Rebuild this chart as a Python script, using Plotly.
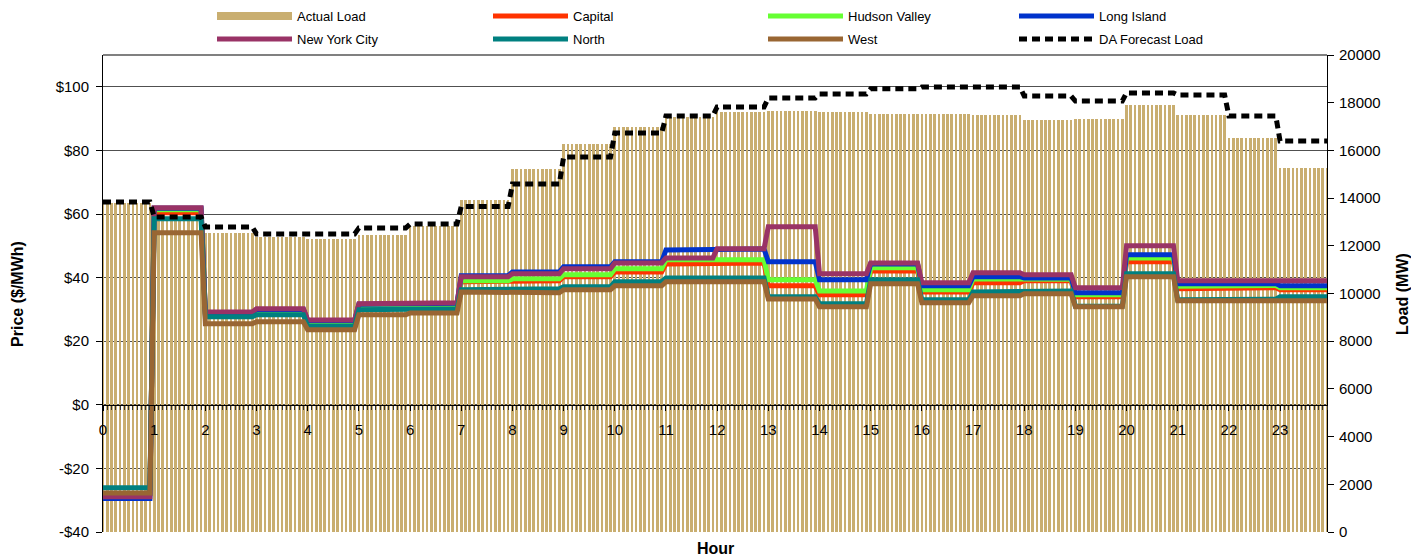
import numpy as np
import plotly.graph_objects as go

# ---------------- data ----------------
hours = list(range(24))
hour_labels = [str(h) for h in hours]
intervals_per_hour = 12  # 5-minute intervals

actual_load = [13800, 13100, 12540, 12370, 12290, 12450, 12830, 13900, 15220, 16270, 16980, 17400,
               17610, 17650, 17610, 17530, 17530, 17490, 17280, 17320, 17900, 17490, 16520, 15260]
da_forecast = [13840, 13210, 12790, 12500, 12500, 12750, 12910, 13650, 14590, 15720, 16730, 17440,
               17820, 18200, 18370, 18580, 18660, 18660, 18280, 18070, 18410, 18320, 17440, 16390]

capital = [-28.0, 60.4, 28.5, 29.3, 25.8, 30.9, 31.2, 38.7, 39.0, 40.3, 41.8, 44.3,
           44.6, 37.4, 34.6, 42.1, 35.5, 38.4, 39.0, 34.0, 45.0, 36.5, 36.8, 36.2]
hudson_valley = [-28.0, 61.3, 28.8, 29.6, 26.0, 31.2, 31.5, 39.0, 39.6, 40.9, 42.8, 45.6,
                 45.6, 39.3, 35.8, 43.1, 36.2, 39.6, 39.5, 34.6, 46.2, 37.3, 37.5, 36.8]
long_island = [-29.5, 61.8, 29.0, 30.0, 26.5, 31.6, 31.9, 40.6, 41.8, 43.4, 45.0, 48.7,
               49.0, 45.0, 39.3, 44.3, 37.4, 40.3, 39.9, 35.2, 47.2, 38.1, 38.1, 37.4]
new_york_city = [-28.9, 62.0, 29.2, 30.2, 26.7, 31.8, 32.1, 40.3, 41.2, 42.8, 44.6, 46.2,
                 49.1, 56.0, 41.2, 44.6, 38.4, 41.5, 40.9, 36.8, 50.0, 39.0, 39.3, 39.0]
north = [-26.1, 58.5, 27.7, 28.3, 24.8, 29.9, 30.2, 36.2, 36.5, 37.1, 38.7, 39.9,
         39.9, 34.0, 31.8, 39.3, 33.0, 35.5, 35.8, 31.0, 41.2, 33.0, 33.2, 34.0]
west = [-27.7, 54.1, 25.5, 26.1, 23.6, 28.3, 28.9, 35.5, 35.2, 36.2, 37.4, 38.7,
        38.7, 33.3, 30.8, 38.1, 32.1, 34.3, 34.9, 30.8, 40.3, 32.7, 33.0, 32.7]

price_ticks = [-40, -20, 0, 20, 40, 60, 80, 100]
price_tick_text = ["-$40", "-$20", "$0", "$20", "$40", "$60", "$80", "$100"]
load_ticks = [0, 2000, 4000, 6000, 8000, 10000, 12000, 14000, 16000, 18000, 20000]
load_tick_text = [str(v) for v in load_ticks]

# ---------------- styling ----------------
FONT = "Liberation Sans, Arial, sans-serif"
TAN = "#C9AE70"
TICK_FONT = dict(family=FONT, size=15, color="black")
TITLE_FONT = dict(family=FONT, size=16, color="black")
PAGE_OFFSET = 8          # default body margin of the html page
FIG_W, FIG_H = 1419 - PAGE_OFFSET, 557 - PAGE_OFFSET
# legend column widths (text area, px) so columns land like the reference
col_widths = [186, 185, 161, 150]
zones = [
    ("Capital", capital, "#FF3300", "legend", col_widths[1]),
    ("Hudson Valley", hudson_valley, "#66FF33", "legend", col_widths[2]),
    ("Long Island", long_island, "#0033CC", "legend", col_widths[3]),
    ("New York City", new_york_city, "#993366", "legend2", col_widths[0]),
    ("North", north, "#008080", "legend2", col_widths[1]),
    ("West", west, "#996633", "legend2", col_widths[2]),
]

n = len(hours) * intervals_per_hour
x = np.arange(n) / intervals_per_hour


def per_interval(hourly):
    return np.repeat(np.asarray(hourly, dtype=float), intervals_per_hour)


fig = go.Figure()

fig.add_trace(go.Bar(x=x, y=per_interval(actual_load), width=0.052, marker=dict(color=TAN, line=dict(width=0)),
                     yaxis="y", showlegend=False, name="Actual Load"))
fig.add_trace(go.Scatter(x=[None], y=[None], mode="lines", name="Actual Load", legend="legend",
                         legendwidth=col_widths[0], line=dict(color=TAN, width=8), yaxis="y"))

for name, vals, color, leg, lw in zones:
    fig.add_trace(go.Scatter(x=x, y=per_interval(vals), mode="lines", name=name, legend=leg, legendwidth=lw,
                             line=dict(color=color, width=5), yaxis="y2"))

fig.add_trace(go.Scatter(x=x, y=per_interval(da_forecast), mode="lines", name="DA Forecast Load",
                         legend="legend2", legendwidth=col_widths[3],
                         line=dict(color="black", width=5, dash="8px,5px"), yaxis="y3"))

legend_common = dict(orientation="h", xref="container", yref="container", x=(212 - PAGE_OFFSET) / FIG_W,
                     xanchor="left", yanchor="middle", itemwidth=75, entrywidthmode="pixels",
                     font=dict(family=FONT, size=13), bgcolor="rgba(0,0,0,0)",
                     traceorder="normal", itemclick=False, borderwidth=0)

fig.update_layout(
    width=FIG_W, height=FIG_H,
    margin=dict(l=103 - PAGE_OFFSET, r=92, t=55 - PAGE_OFFSET, b=25, autoexpand=False),
    paper_bgcolor="white", plot_bgcolor="white",
    font=dict(family=FONT, size=13, color="black"),
    bargap=0,
    showlegend=True,
    legend=dict(legend_common, y=1 - (16 - PAGE_OFFSET) / FIG_H),
    legend2=dict(legend_common, y=1 - (39 - PAGE_OFFSET) / FIG_H),
    xaxis=dict(range=[0, (n - 1) / intervals_per_hour], tickmode="array", tickvals=hours, ticktext=hour_labels,
               anchor="free", position=40 / 150, showline=True, linecolor="black", linewidth=1,
               ticks="outside", ticklen=5, tickcolor="black",
               minor=dict(tickmode="linear", tick0=0, dtick=1 / intervals_per_hour, ticks="outside",
                          ticklen=4, tickcolor="#333333"),
               showgrid=False, zeroline=False, ticklabelstandoff=6, tickfont=TICK_FONT),
    yaxis=dict(range=[0, 20000], side="right", tickmode="array", tickvals=load_ticks, ticktext=load_tick_text,
               showgrid=False, zeroline=False, showline=True, linecolor="black", linewidth=1,
               ticks="outside", ticklen=6, tickcolor="black", tickfont=TICK_FONT, ticklabelstandoff=2),
    yaxis2=dict(range=[-40, 110], overlaying="y", side="left", tickmode="array", tickvals=price_ticks,
                ticktext=price_tick_text, showgrid=True, gridcolor="#505050", gridwidth=1,
                zeroline=False, showline=True, linecolor="black", linewidth=1,
                ticks="outside", ticklen=6, tickcolor="black", tickfont=TICK_FONT, ticklabelstandoff=4),
    yaxis3=dict(range=[0, 20000], overlaying="y", visible=False),
    shapes=[dict(type="line", xref="paper", yref="paper", x0=0, x1=1, y0=1, y1=1,
                 line=dict(color="#808080", width=2))],
    annotations=[
        dict(text="<b>Price ($/MWh)</b>", xref="paper", yref="paper", x=-0.0785, y=0.5, textangle=-90,
             showarrow=False, font=TITLE_FONT),
        dict(text="<b>Load (MW)</b>", xref="paper", yref="paper", x=1.0702, y=0.5, textangle=-90,
             showarrow=False, font=TITLE_FONT),
        dict(text="<b>Hour</b>", xref="paper", yref="paper", x=0.5, y=-0.0356, yanchor="middle",
             showarrow=False, font=TITLE_FONT),
    ],
)

fig.write_html("out.html")
